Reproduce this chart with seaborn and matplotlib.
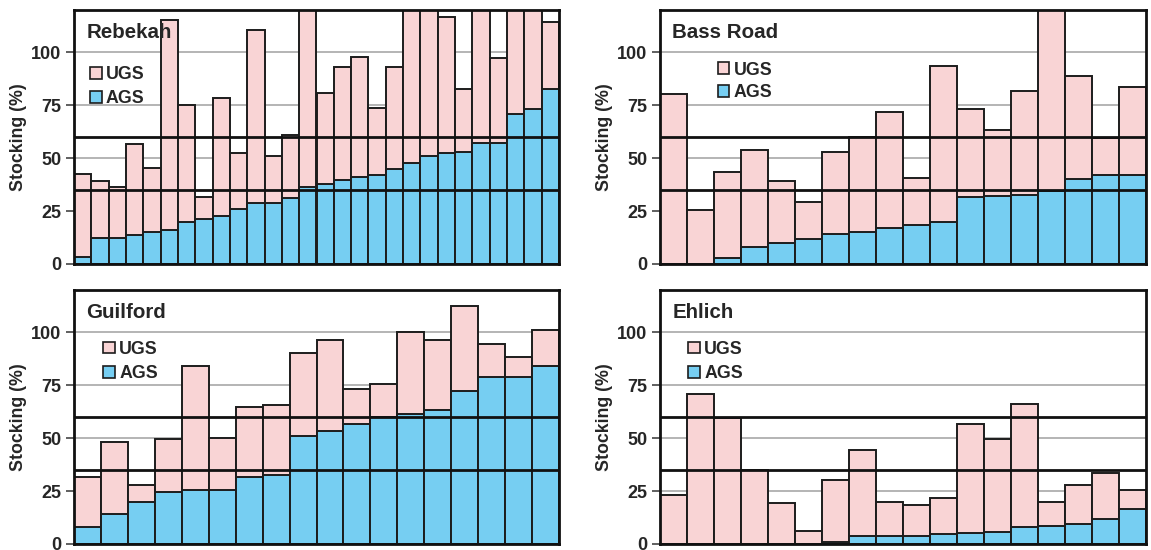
import matplotlib
matplotlib.use("Agg")
import matplotlib.pyplot as plt
import pandas as pd
import seaborn as sns
from matplotlib.patches import Patch

sns.set_style("white")
plt.rcParams["font.family"] = ["Liberation Sans", "DejaVu Sans"]
plt.rcParams["font.weight"] = "bold"
plt.rcParams["axes.labelweight"] = "bold"

# Stocking per stand: total (UGS + AGS) and the AGS part, stands ordered by AGS
rebekah_total = [42.7, 39.1, 36.4, 56.5, 45.4, 115.2, 75.2, 31.6, 78.6, 52.4,
                 110.4, 51.0, 60.8, 126.0, 80.7, 93.1, 97.8, 73.8, 93.1, 131.0,
                 124.0, 116.5, 82.7, 138.0, 97.2, 129.0, 133.0, 114.3]
rebekah_ags = [3.1, 12.1, 12.1, 13.7, 14.9, 15.9, 19.8, 21.2, 22.6, 26.1,
               28.6, 28.6, 31.4, 36.4, 37.8, 39.9, 41.3, 42.1, 44.7, 47.6,
               51.0, 52.3, 52.9, 57.0, 57.0, 71.0, 73.2, 82.6]

bass_total = [80.5, 25.4, 43.3, 54.0, 39.1, 29.5, 53.1, 60.1, 71.6, 40.5,
              93.7, 73.2, 63.3, 81.5, 123.0, 88.9, 59.5, 83.4]
bass_ags = [0.0, 0.0, 2.7, 8.0, 10.0, 11.6, 14.1, 14.9, 16.9, 18.4,
            19.9, 31.6, 32.0, 32.8, 34.4, 40.3, 41.9, 41.9]

guilford_total = [31.6, 48.2, 28.1, 49.6, 84.1, 50.2, 64.7, 65.5, 90.4, 96.5,
                  73.2, 75.8, 100.0, 96.4, 112.6, 94.5, 88.2, 101.3]
guilford_ags = [8.0, 14.1, 19.8, 24.5, 25.4, 25.4, 31.6, 32.8, 51.0, 53.5,
                56.5, 60.1, 61.4, 63.3, 72.4, 79.1, 79.1, 84.0]

ehlich_total = [23.2, 71.0, 59.3, 34.9, 19.2, 6.1, 30.1, 44.6, 19.9, 18.4,
                21.8, 56.5, 49.5, 66.1, 19.9, 28.1, 33.6, 25.3]
ehlich_ags = [0.0, 0.0, 0.0, 0.0, 0.0, 0.0, 1.1, 3.8, 3.8, 3.8,
              4.6, 5.2, 5.8, 8.0, 8.6, 9.6, 11.6, 16.3]

sites = ["Rebekah", "Bass Road", "Guilford", "Ehlich"]
totals = [rebekah_total, bass_total, guilford_total, ehlich_total]
ags_parts = [rebekah_ags, bass_ags, guilford_ags, ehlich_ags]

y_ticks = [0, 25, 50, 75, 100]
a_line, b_line = 60, 35

UGS_COLOR = "#F9D4D5"
AGS_COLOR = "#76CEF2"
EDGE = "#1c1c1c"

W, H = 1151, 550
fig = plt.figure(figsize=(W / 100, H / 100), dpi=100)

# axes boxes in pixels: left, top, right, bottom
boxes = [(74, 10, 559, 264), (660, 10, 1146, 264),
         (74, 290, 559, 544), (660, 290, 1146, 544)]
legend_anchor = [(0.033, 0.778), (0.119, 0.797), (0.060, 0.800), (0.058, 0.800)]
legend_gap = [0.40, 0.30, 0.40, 0.40]

for i, (name, tot, ags) in enumerate(zip(sites, totals, ags_parts)):
    l, t, r, b = boxes[i]
    ax = fig.add_axes([l / W, 1 - b / H, (r - l) / W, (b - t) / H])
    df = pd.DataFrame({"stand": list(range(len(tot))), "total": tot, "ags": ags})

    sns.barplot(data=df, x="stand", y="total", color=UGS_COLOR, saturation=1,
                edgecolor=EDGE, linewidth=1.4, width=1.0, errorbar=None, ax=ax)
    sns.barplot(data=df, x="stand", y="ags", color=AGS_COLOR, saturation=1,
                edgecolor=EDGE, linewidth=1.4, width=1.0, errorbar=None, ax=ax)

    ax.set_xlim(-0.5, len(tot) - 0.5)
    ax.set_ylim(0, 120)
    ax.set_yticks(y_ticks)
    ax.set_xticks([])
    ax.set_xlabel("")
    ax.set_ylabel("Stocking (%)", fontsize=12.8, fontweight="bold", labelpad=3)

    ax.yaxis.grid(True, color="#A8A8A8", linewidth=1.2)
    ax.set_axisbelow(True)
    ax.axhline(a_line, color="#111111", linewidth=2.0, zorder=5)
    ax.axhline(b_line, color="#111111", linewidth=2.0, zorder=5)

    for sp in ax.spines.values():
        sp.set_visible(True)
        sp.set_color("#111111")
        sp.set_linewidth(2.0)
        sp.set_zorder(6)

    ax.tick_params(axis="y", left=True, direction="out", length=6, width=1.2,
                   color="#444444", pad=3, labelsize=13)
    for lab in ax.get_yticklabels():
        lab.set_fontweight("bold")

    ax.text(0.025, 0.912, name, transform=ax.transAxes, fontsize=14.8,
            fontweight="bold", ha="left", va="center", zorder=7)

    handles = [Patch(facecolor=UGS_COLOR, edgecolor=EDGE, linewidth=1.2, label="UGS"),
               Patch(facecolor=AGS_COLOR, edgecolor=EDGE, linewidth=1.2, label="AGS")]
    leg = ax.legend(handles=handles, loc="upper left",
                    bbox_to_anchor=legend_anchor[i], frameon=False,
                    handlelength=0.65, handleheight=0.65, handletextpad=0.25,
                    labelspacing=legend_gap[i], borderpad=0, borderaxespad=0,
                    prop={"weight": "bold", "size": 12.8})
    leg.set_zorder(7)

fig.savefig("out.png", dpi=100)
